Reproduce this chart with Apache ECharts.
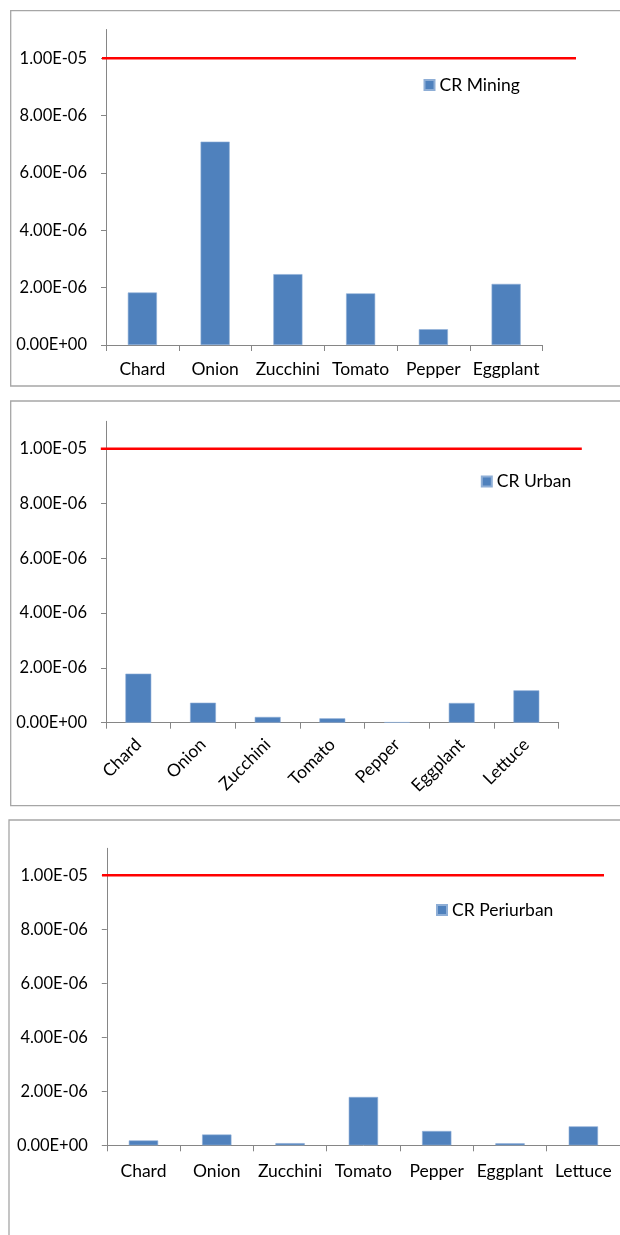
<!DOCTYPE html>
<html>
<head>
<meta charset="utf-8">
<script src="https://cdn.jsdelivr.net/npm/echarts@6/dist/echarts.min.js"></script>
<style>
  html, body { margin: 0; padding: 0; background: #fff; }
  #chart { width: 620px; height: 1235px; }
</style>
</head>
<body>
<div id="chart"></div>
<script>
// Cancer risk (CR) per vegetable for three sampling zones
const categoriesMining = ['Chard', 'Onion', 'Zucchini', 'Tomato', 'Pepper', 'Eggplant'];
const categoriesVeg = ['Chard', 'Onion', 'Zucchini', 'Tomato', 'Pepper', 'Eggplant', 'Lettuce'];
const crMining = [1.83e-6, 7.09e-6, 2.47e-6, 1.80e-6, 0.55e-6, 2.13e-6];
const crUrban = [1.79e-6, 0.73e-6, 0.21e-6, 0.16e-6, 0.02e-6, 0.72e-6, 1.18e-6];
const crPeriurban = [0.18e-6, 0.40e-6, 0.08e-6, 1.79e-6, 0.53e-6, 0.075e-6, 0.70e-6];
const seriesNames = ['CR Mining', 'CR Urban', 'CR Periurban'];
const limitValue = 1e-5;               // acceptable risk threshold
const yMax = 1.1e-5;
const yTickValues = [0, 2e-6, 4e-6, 6e-6, 8e-6, 1e-5];

const FONT = 'Lato';
const AXIS_COLOR = '#868686';
const BAR_COLOR = '#4F81BD';

function sci(v) {
  // Excel-style scientific label: 2.00E-06
  let [m, e] = v.toExponential(2).toUpperCase().split('E');
  const sign = e[0] === '-' ? '-' : '+';
  e = e.replace(/^[+-]/, '');
  if (e.length < 2) e = '0' + e;
  return m + 'E' + sign + e;
}

// Panel layout: plot grid and the wider grid holding the threshold line
const panels = [
  { cats: categoriesMining, data: crMining, name: seriesNames[0],
    grid: { left: 106, top: 29.5, width: 436.5, height: 315.5 },
    lineGrid: { left: 102, width: 474 },
    legend: { left: 423.5, top: 76 }, rotate: 0, margin: 15 },
  { cats: categoriesVeg, data: crUrban, name: seriesNames[1],
    grid: { left: 106, top: 421.3, width: 452.7, height: 301.4 },
    lineGrid: { left: 100.8, width: 481 },
    legend: { left: 480.8, top: 472.5 }, rotate: 45, margin: 19 },
  { cats: categoriesVeg, data: crPeriurban, name: seriesNames[2],
    grid: { left: 106.8, top: 848.3, width: 518, height: 297 },
    lineGrid: { left: 102, width: 502 },
    legend: { left: 436, top: 901 }, rotate: 0, margin: 17 }
];

const grid = [], xAxis = [], yAxis = [], series = [], legend = [];

panels.forEach((p, i) => {
  const gi = grid.length;
  grid.push({ left: p.grid.left, top: p.grid.top, width: p.grid.width, height: p.grid.height, containLabel: false });
  grid.push({ left: p.lineGrid.left, top: p.grid.top, width: p.lineGrid.width, height: p.grid.height, containLabel: false });

  xAxis.push({
    type: 'category', gridIndex: gi, data: p.cats, boundaryGap: true,
    axisLine: { lineStyle: { color: AXIS_COLOR, width: 1 } },
    axisTick: { show: true, length: 6, lineStyle: { color: AXIS_COLOR } },
    axisLabel: { fontFamily: FONT, fontSize: 17.5, color: '#000', margin: p.margin, rotate: p.rotate, interval: 0 },
    splitLine: { show: false }
  });
  xAxis.push({ type: 'value', gridIndex: gi + 1, min: 0, max: 1, show: false });

  yAxis.push({
    type: 'value', gridIndex: gi, min: 0, max: yMax,
    axisLine: { show: true, lineStyle: { color: AXIS_COLOR, width: 1 } },
    axisTick: { show: true, length: 5, lineStyle: { color: AXIS_COLOR }, customValues: yTickValues },
    axisLabel: { fontFamily: FONT, fontSize: 16.5, color: '#000', margin: 19, customValues: yTickValues, formatter: sci },
    splitLine: { show: false }
  });
  yAxis.push({ type: 'value', gridIndex: gi + 1, min: 0, max: yMax, show: false });

  series.push({
    name: p.name, type: 'bar', xAxisIndex: gi, yAxisIndex: gi,
    data: p.data, barWidth: '40%',
    itemStyle: { color: BAR_COLOR, borderColor: '#8eaed6', borderWidth: 0.6 }
  });
  series.push({
    type: 'line', xAxisIndex: gi + 1, yAxisIndex: gi + 1,
    data: [[0, limitValue], [1, limitValue]],
    symbol: 'none', silent: true,
    lineStyle: { color: '#FF0000', width: 2.5 }
  });

  legend.push({
    data: [p.name], left: p.legend.left, top: p.legend.top, padding: 0,
    itemWidth: 10, itemHeight: 10, itemGap: 5, icon: 'rect',
    textStyle: { fontFamily: FONT, fontSize: 17.5, color: '#000', lineHeight: 18 }
  });
});

const frameStyle = { fill: 'none', stroke: '#a6a6a6', lineWidth: 1.3 };
const chart = echarts.init(document.getElementById('chart'), null, { renderer: 'canvas' });
chart.setOption({
  animation: false,
  backgroundColor: '#fff',
  grid, xAxis, yAxis, series, legend,
  graphic: [
    { type: 'rect', shape: { x: 10.7, y: 10.7, width: 640, height: 375.3 }, style: frameStyle, silent: true },
    { type: 'rect', shape: { x: 10.7, y: 401, width: 640, height: 404.7 }, style: frameStyle, silent: true },
    { type: 'rect', shape: { x: 9, y: 820, width: 640, height: 440 }, style: frameStyle, silent: true }
  ]
});
</script>
</body>
</html>
